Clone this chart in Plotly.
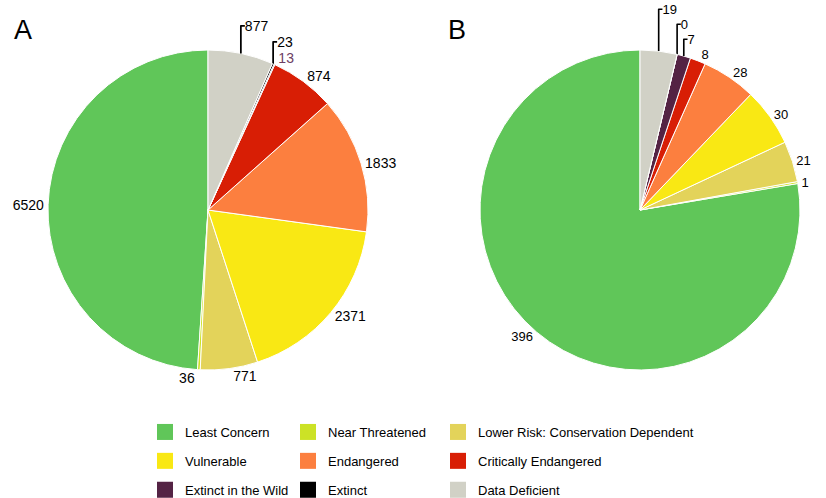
import plotly.graph_objects as go

categories = ["Least Concern", "Near Threatened", "Lower Risk: Conservation Dependent",
              "Vulnerable", "Endangered", "Critically Endangered",
              "Extinct in the Wild", "Extinct", "Data Deficient"]
colors = ["#60c659", "#cce226", "#e3d35a", "#f9e814", "#fc7f3f", "#d81e05",
          "#542344", "#000000", "#d1d1c6"]
values_a = [6520, 36, 771, 2371, 1833, 874, 13, 23, 877]
values_b = [396, 1, 21, 30, 28, 8, 7, 0, 19]
text_colors_a = ["#000000"] * 6 + ["#6d4064", "#000000", "#000000"]
text_colors_b = ["#000000"] * 9

W, H = 826, 498
FONT = "Liberation Sans, Arial, sans-serif"

fig = go.Figure()

def pie(values, tcolors, xd, yd, fsize):
    # first slice (Least Concern) ends at 12 o'clock, the rest follow counterclockwise
    rot = 360 - 360 * values[0] / sum(values)
    return go.Pie(
        labels=categories, values=values, sort=False, direction="counterclockwise",
        rotation=rot, marker=dict(colors=colors, line=dict(color="white", width=1)),
        textinfo="value", textposition="outside",
        textfont=dict(family=FONT, size=fsize, color=tcolors),
        domain=dict(x=xd, y=yd), showlegend=False, hoverinfo="label+value",
    )

ydom = [1 - 370 / H, 1 - 50 / H]
fig.add_trace(pie(values_a, text_colors_a, [48 / W, 368 / W], ydom, 14))
fig.add_trace(pie(values_b, text_colors_b, [480 / W, 800 / W], ydom, 13))

# legend entries (3 columns)
legend_of = ["legend", "legend2", "legend3"]
for i, (name, col) in enumerate(zip(categories, colors)):
    fig.add_trace(go.Scatter(
        x=[None], y=[None], mode="markers", name=name, legendgroup=name,
        marker=dict(symbol="square", size=16, color=col),
        legend=legend_of[i % 3], showlegend=True, hoverinfo="skip",
    ))

leg_common = dict(yanchor="top", y=1 - 417 / H, xanchor="left", orientation="v",
                  tracegroupgap=9, font=dict(family=FONT, size=13, color="#000"),
                  bgcolor="rgba(0,0,0,0)", itemclick=False, itemdoubleclick=False)
fig.update_layout(
    width=W, height=H, margin=dict(l=0, r=0, t=0, b=0, autoexpand=False),
    paper_bgcolor="white", plot_bgcolor="rgba(0,0,0,0)",
    font=dict(family=FONT, color="#000"),
    xaxis=dict(visible=False), yaxis=dict(visible=False),
    legend=dict(x=145 / W, **leg_common),
    legend2=dict(x=288 / W, **leg_common),
    legend3=dict(x=438 / W, **leg_common),
    annotations=[
        dict(text="A", x=12 / W, y=1 - 30 / H, xref="paper", yref="paper",
             xanchor="left", yanchor="middle", showarrow=False,
             font=dict(family=FONT, size=27, color="#000")),
        dict(text="B", x=446 / W, y=1 - 30 / H, xref="paper", yref="paper",
             xanchor="left", yanchor="middle", showarrow=False,
             font=dict(family=FONT, size=27, color="#000")),
    ],
)

fig.write_html("out.html", config={"displayModeBar": False},
               post_script="document.body.style.margin='0';")
